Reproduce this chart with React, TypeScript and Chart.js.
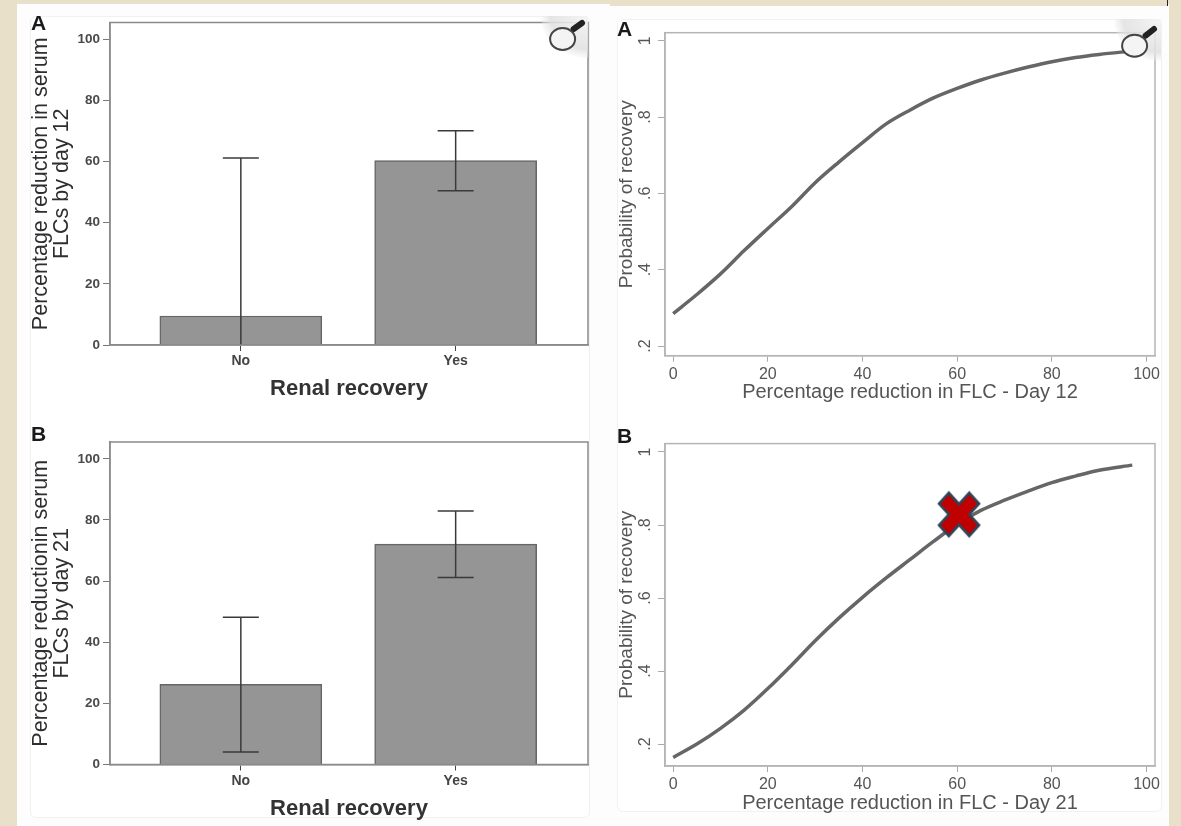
import React, { useEffect, useRef } from "react";
import { Chart, registerables } from "chart.js";

Chart.register(...registerables);

const recoveryCategories = ["No", "Yes"];
const barTicks = [0, 20, 40, 60, 80, 100];
const day12Means = [9.5, 60.3];
const day12Low = [-42, 50.5];
const day12High = [61.2, 70.1];
const day21Means = [26.2, 72.1];
const day21Low = [4.1, 61.2];
const day21High = [48.2, 82.9];

const curveXTicks = [0, 20, 40, 60, 80, 100];
const curveYTicks = [0.2, 0.4, 0.6, 0.8, 1];
const day12X = [0, 5, 10, 15, 20, 25, 30, 35, 40, 45, 50, 55, 60, 65, 70, 75, 80, 85, 90, 97];
const day12Y = [0.285, 0.335, 0.389, 0.45, 0.508, 0.565, 0.628, 0.682, 0.733, 0.782, 0.818, 0.85, 0.875, 0.897, 0.915, 0.931, 0.945, 0.956, 0.964, 0.973];
const day21X = [0, 5, 10, 15, 20, 25, 30, 35, 40, 45, 50, 55, 60, 65, 70, 75, 80, 85, 90, 97];
const day21Y = [0.1635, 0.2, 0.243, 0.293, 0.352, 0.416, 0.483, 0.545, 0.602, 0.655, 0.705, 0.755, 0.802, 0.84, 0.868, 0.893, 0.916, 0.934, 0.95, 0.964];
const markerX = [60.4];
const markerY = [0.829];

const FONT = "'Liberation Sans', Arial, sans-serif";
const BEIGE = "#e8e0c8";

function fixedTicks(values: number[]) {
  return (scale: any) => {
    scale.ticks = values.map((value) => ({ value }));
  };
}

const framePlugin = (color: string, width: number) => ({
  id: "frame",
  afterDatasetsDraw(chart: any) {
    const { left, top, right, bottom } = chart.chartArea;
    const c = chart.ctx;
    c.save();
    c.strokeStyle = color;
    c.lineWidth = width;
    c.strokeRect(left, top, right - left, bottom - top);
    c.restore();
  },
});

function makeXMarker() {
  const size = 52;
  const cv = document.createElement("canvas");
  cv.width = size;
  cv.height = size;
  const c = cv.getContext("2d")!;
  c.translate(size / 2, size / 2);
  const ax = 20;
  const ay = 21.5;
  const px = 10.2;
  const py = 10.7;
  const n = 10.3;
  const pts = [
    [-px, -ay], [0, -n], [px, -ay], [ax, -py], [n, 0], [ax, py],
    [px, ay], [0, n], [-px, ay], [-ax, py], [-n, 0], [-ax, -py],
  ];
  c.beginPath();
  pts.forEach(([x, y], i) => (i ? c.lineTo(x, y) : c.moveTo(x, y)));
  c.closePath();
  c.fillStyle = "#c00000";
  c.fill();
  c.lineWidth = 2.6;
  c.strokeStyle = "#2f4558";
  c.lineJoin = "miter";
  c.stroke();
  return cv;
}

function barConfig(
  means: number[], low: number[], high: number[], titleLines: string[],
  yMax: number, axisH: number, padTop: number, titleBottom: number,
) {
  const whisker = (i: number) => ({
    type: "line",
    order: 0,
    data: [{ x: i, y: low[i] }, { x: i, y: high[i] }],
    borderColor: "#3a3a3a",
    borderWidth: 1.5,
    pointStyle: "line",
    pointRadius: 18,
    pointBorderWidth: 1.5,
    pointBorderColor: "#3a3a3a",
    pointHoverRadius: 18,
  });
  return {
    type: "bar",
    data: {
      datasets: [
        {
          type: "bar",
          order: 1,
          data: means.map((y, x) => ({ x, y })),
          backgroundColor: "#959595",
          borderColor: "#666666",
          borderWidth: 1.5,
          barThickness: 162,
        },
        whisker(0),
        whisker(1),
      ],
    },
    options: {
      responsive: false,
      animation: false,
      layout: { autoPadding: false, padding: { top: padTop, right: 12, left: 0, bottom: 0 } },
      plugins: { legend: { display: false }, tooltip: { enabled: false } },
      scales: {
        x: {
          type: "linear",
          offset: false,
          min: -0.609,
          max: 1.616,
          afterBuildTicks: fixedTicks([0, 1]),
          afterFit: (s: any) => { s.height = axisH; },
          grid: { offset: false, drawOnChartArea: false, tickLength: 6, tickColor: "#444" },
          border: { color: "#8a8a8a", width: 1.5 },
          ticks: {
            autoSkip: false,
            maxRotation: 0,
            padding: 2,
            color: "#444",
            font: { family: FONT, size: 14, weight: "bold" },
            callback: (v: number) => recoveryCategories[v],
          },
          title: {
            display: true,
            text: "Renal recovery",
            color: "#333",
            font: { family: FONT, size: 22, weight: "bold" },
            padding: { top: 0, bottom: titleBottom },
          },
        },
        y: {
          type: "linear",
          min: 0,
          max: yMax,
          afterBuildTicks: fixedTicks(barTicks),
          afterFit: (s: any) => { s.width = 80; },
          grid: { drawOnChartArea: false, tickLength: 7, tickColor: "#777" },
          border: { color: "#8a8a8a", width: 1.5 },
          ticks: {
            autoSkip: false,
            padding: 3,
            color: "#4a4a4a",
            font: { family: FONT, size: 13.5, weight: "bold" },
          },
          title: {
            display: true,
            text: titleLines,
            color: "#2e2e2e",
            font: { family: FONT, size: 21.5, lineHeight: 1 },
            padding: { top: 0, bottom: 0 },
          },
        },
      },
    },
  };
}

function curveConfig(
  xs: number[], ys: number[], xTitle: string, yMin: number, yMax: number,
  axisH: number, padTop: number, titleBottom: number, marker: boolean,
) {
  const datasets: any[] = [
    {
      type: "line",
      order: 1,
      data: xs.map((x, i) => ({ x, y: ys[i] })),
      borderColor: "#666666",
      borderWidth: 3.5,
      pointRadius: 0,
      cubicInterpolationMode: "monotone",
    },
  ];
  if (marker) {
    datasets.push({
      type: "scatter",
      order: 0,
      data: markerX.map((x, i) => ({ x, y: markerY[i] })),
      pointStyle: makeXMarker(),
      pointRadius: 26,
    });
  }
  return {
    type: "line",
    data: { datasets },
    options: {
      responsive: false,
      animation: false,
      layout: { autoPadding: false, padding: { top: padTop, right: 26, left: 0, bottom: 0 } },
      plugins: { legend: { display: false }, tooltip: { enabled: false } },
      scales: {
        x: {
          type: "linear",
          min: -1.73,
          max: 101.8,
          afterBuildTicks: fixedTicks(curveXTicks),
          afterFit: (s: any) => { s.height = axisH; },
          grid: { drawOnChartArea: false, tickLength: 6, tickColor: "#aaa" },
          border: { color: "#b5b5b5", width: 1.5 },
          ticks: {
            autoSkip: false,
            maxRotation: 0,
            padding: 3,
            color: "#555",
            font: { family: FONT, size: 16 },
          },
          title: {
            display: true,
            text: xTitle,
            color: "#555",
            font: { family: FONT, size: 20 },
            padding: { top: 0, bottom: titleBottom },
          },
        },
        y: {
          type: "linear",
          min: yMin,
          max: yMax,
          afterBuildTicks: fixedTicks(curveYTicks),
          afterFit: (s: any) => { s.width = 50; },
          grid: { drawOnChartArea: false, tickLength: 7, tickColor: "#aaa" },
          border: { color: "#b5b5b5", width: 1.5 },
          ticks: {
            autoSkip: false,
            minRotation: 90,
            maxRotation: 90,
            crossAlign: "center",
            padding: 6,
            color: "#555",
            font: { family: FONT, size: 16 },
            callback: (v: number) => (v === 1 ? "1" : String(v).replace(/^0/, "")),
          },
          title: {
            display: true,
            text: "Probability of recovery",
            color: "#555",
            font: { family: FONT, size: 19 },
            padding: { top: 0, bottom: 0 },
          },
        },
      },
    },
  };
}

function Plot({ left, top, width, height, make }: any) {
  const ref = useRef<HTMLCanvasElement>(null);
  useEffect(() => {
    const chart = new Chart(ref.current as any, make());
    return () => chart.destroy();
  }, []);
  return (
    <canvas
      ref={ref}
      width={width}
      height={height}
      style={{ position: "absolute", left, top, width, height, filter: "blur(0.6px)" }}
    />
  );
}

function Letter({ x, y, children }: any) {
  return (
    <div style={{ position: "absolute", left: x, top: y, font: `bold 21px ${FONT}`, color: "#1a1a1a", filter: "blur(0.4px)" }}>
      {children}
    </div>
  );
}

function Magnifier({ cx, cy, hx, hy, patchX, patchY, id }: any) {
  return (
    <svg style={{ position: "absolute", left: 0, top: 0, pointerEvents: "none", filter: "blur(0.5px)" }} width={1181} height={826}>
      <defs>
        <radialGradient id={id} cx="50%" cy="50%" r="50%">
          <stop offset="0%" stopColor="#f4f4f4" stopOpacity="0.9" />
          <stop offset="80%" stopColor="#e0e0e0" stopOpacity="0.85" />
          <stop offset="100%" stopColor="#eeeeee" stopOpacity="0.3" />
        </radialGradient>
        <clipPath id={id + "c"}>
          <rect x={patchX - 47} y={patchY} width={47} height={44} />
        </clipPath>
      </defs>
      <ellipse cx={patchX} cy={patchY} rx={47} ry={42} fill={`url(#${id})`} clipPath={`url(#${id}c)`} />
      <line x1={cx + 8} y1={cy - 7} x2={cx + 11} y2={cy - 10} stroke="#777" strokeWidth={3} />
      <line x1={cx + 11} y1={cy - 10} x2={hx} y2={hy} stroke="#222" strokeWidth={6} strokeLinecap="round" />
      <ellipse cx={cx} cy={cy} rx={12.5} ry={11} fill="#f4f4f4" stroke="#444" strokeWidth={2} />
    </svg>
  );
}

const panel = (left: number, top: number, width: number, height: number): React.CSSProperties => ({
  position: "absolute", left, top, width, height, background: "#fff",
  border: "1px solid #f1f1f1", borderRadius: 6, boxSizing: "border-box",
});

export default function App() {
  return (
    <div style={{ position: "fixed", left: 0, top: 0, width: 1181, height: 826, background: BEIGE, overflow: "hidden" }}>
      <div style={{ position: "absolute", left: 17, top: 4, width: 1152, height: 822, background: "#fdfdfd" }} />
      <div style={{ position: "absolute", left: 610, top: 0, width: 557, height: 6, background: BEIGE }} />
      <div style={{ position: "absolute", left: 1167, top: 0, width: 1, height: 6, background: "#222" }} />
      <div style={panel(30, 16, 560, 802)} />
      <div style={panel(617, 19, 545, 793)} />

      <Plot left={30} top={8} width={570} height={412} make={() => {
        const cfg: any = barConfig(day12Means, day12Low, day12High, ["Percentage reduction in serum", "FLCs by day 12"], 105.5, 75, 14.5, 18);
        cfg.plugins = [framePlugin("#8a8a8a", 1.5)];
        return cfg;
      }} />
      <Plot left={30} top={428} width={570} height={398} make={() => {
        const cfg: any = barConfig(day21Means, day21Low, day21High, ["Percentage reductionin serum", "FLCs by day 21"], 105.5, 61.5, 14, 4);
        cfg.plugins = [framePlugin("#8a8a8a", 1.5)];
        return cfg;
      }} />
      <Plot left={615} top={8} width={566} height={412} make={() => {
        const cfg: any = curveConfig(day12X, day12Y, "Percentage reduction in FLC - Day 12", 0.1746, 1.021, 64.3, 24.7, 16, false);
        cfg.plugins = [framePlugin("#b5b5b5", 1.5)];
        return cfg;
      }} />
      <Plot left={615} top={428} width={566} height={398} make={() => {
        const cfg: any = curveConfig(day21X, day21Y, "Percentage reduction in FLC - Day 21", 0.14, 1.023, 60, 15.3, 11, true);
        cfg.plugins = [framePlugin("#b5b5b5", 1.5)];
        return cfg;
      }} />

      <Letter x={31} y={11}>A</Letter>
      <Letter x={31} y={422}>B</Letter>
      <Letter x={617} y={17}>A</Letter>
      <Letter x={617} y={424}>B</Letter>

      <Magnifier id="m1" cx={562.6} cy={39} hx={582} hy={23} patchX={588} patchY={16} />
      <Magnifier id="m2" cx={1134.6} cy={45.7} hx={1154} hy={29} patchX={1161} patchY={19} />
    </div>
  );
}
